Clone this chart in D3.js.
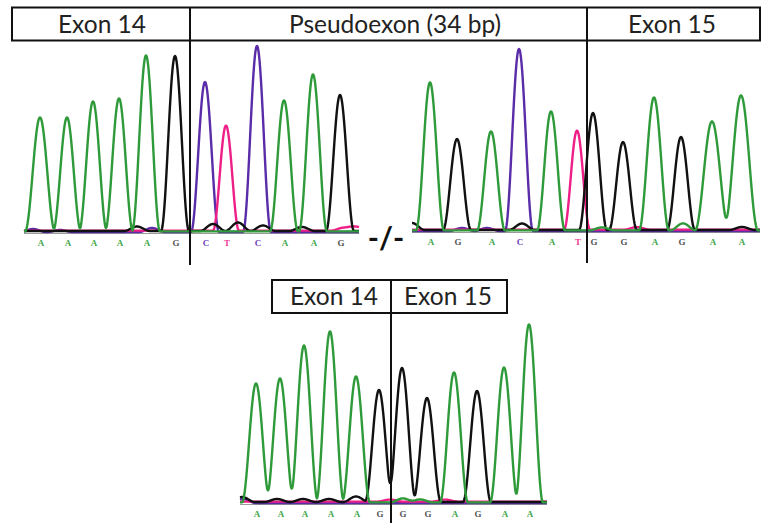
<!DOCTYPE html>
<html>
<head>
    <script src="https://d3js.org/d3.v7.min.js"></script>
    <style>
        body { margin: 0; background: white; }
        .hdr { font-family: Lato, "Open Sans", sans-serif; font-size: 24.5px; fill: #222; }
        .base { font-family: "Liberation Serif", serif; font-weight: bold; font-size: 9px; }
    </style>
</head>
<body>
<svg id="chart" width="771" height="525"></svg>
<script>
    // --- top left trace: end of exon 14 + start of the pseudoexon ---
    const leftBases   = ["A","A","A","A","A","G","C","T","C","A","A","G"];
    const leftScans   = [16, 43, 69, 95, 122, 151, 181, 202, 233, 260, 289, 316];
    const leftHeights = [1140, 1140, 1300, 1330, 1760, 1750, 1500, 1050, 1860, 1310, 1570, 1360];
    const leftWidths  = [15, 14, 14, 14, 14, 14, 14, 13, 14, 14, 14, 14];
    const leftJunction = 166;
    // small background bumps
    const leftNoiseBases   = ["C","C","G","C","G","G","G","G","T","T"];
    const leftNoiseScans   = [9, 36, 113, 128, 189, 214, 239, 278, 320, 332];
    const leftNoiseHeights = [30, 20, 45, 40, 70, 85, 55, 40, 30, 40];

    // --- top right trace: end of the pseudoexon + exon 15 ---
    const rightBases   = ["A","G","A","C","A","T","G","G","A","G","A","A"];
    const rightScans   = [18, 45, 79, 107, 139, 165, 181, 211, 242, 269, 300, 329];
    const rightHeights = [1480, 910, 990, 1820, 1190, 990, 1170, 880, 1330, 930, 1090, 1350];
    const rightWidths  = [14, 14, 14, 14, 14, 13, 14, 14, 15, 14, 17, 17];
    const rightJunction = 175;
    const rightNoiseBases   = ["G","C","C","G","A","A","G","T"];
    const rightNoiseScans   = [0, 50, 75, 110, 190, 271, 330, 225];
    const rightNoiseHeights = [70, 30, 30, 65, 30, 70, 30, 25];

    // --- bottom trace: normal exon 14 / exon 15 junction ---
    const normBases   = ["A","A","A","A","A","G","G","G","A","G","A","A"];
    const normScans   = [16, 40, 64, 90, 116, 139, 162, 187, 214, 237, 264, 289];
    const normHeights = [1190, 1240, 1570, 1710, 1260, 1120, 1340, 1040, 1300, 1110, 1350, 1780];
    const normWidths  = [14, 14, 14, 14, 14, 14, 14, 14, 14, 14, 14, 14];
    const normJunction = 151;
    const normNoiseBases   = ["G","C","G","G","G","G","A","A","T","T"];
    const normNoiseScans   = [2, 3, 37, 63, 89, 116, 163, 180, 150, 205];
    const normNoiseHeights = [50, 40, 30, 30, 30, 55, 40, 30, 20, 20];

    const channels = ["C", "T", "G", "A"];           // drawing order
    const traceColor = {A: "#2f9a3a", C: "#5a2ca8", G: "#111111", T: "#ee1f86"};
    const labelColor = {A: "#43a84a", C: "#6a3cb8", G: "#555555", T: "#ee3a92"};
    const chanOffset = {A: 6, C: 0, G: 10, T: 14};

    const svg = d3.select("#chart");

    function peakValue(d, w) {
        if (Math.abs(d) >= w) return 0;
        const c = Math.cos(Math.PI * d / (2 * w));
        return c * c;
    }

    function drawTrace(cfg) {
        const x = d3.scaleLinear().domain([0, cfg.scanMax]).range([cfg.x0, cfg.x1]);
        const y = d3.scaleLinear().domain([0, 1900]).range([cfg.baseline, cfg.baseline - 190]);

        const peaks = cfg.bases.map((b, i) => ({b: b, s: cfg.scans[i], h: cfg.heights[i], w: cfg.widths[i]}));
        const noise = cfg.noiseBases.map((b, i) => ({b: b, s: cfg.noiseScans[i], h: cfg.noiseHeights[i], w: 13}));
        const all = peaks.concat(noise);

        const ts = d3.range(0, cfg.scanMax + 0.01, 0.5);

        const g = svg.append("g");

        // grey axis line
        g.append("line")
            .attr("x1", x(0)).attr("x2", x(cfg.scanMax))
            .attr("y1", cfg.baseline + 1.5).attr("y2", cfg.baseline + 1.5)
            .attr("stroke", "#9a9a9a").attr("stroke-width", 1);

        const line = d3.line().x(d => x(d[0])).y(d => y(d[1]));

        channels.forEach(ch => {
            const pts = ts.map(t => {
                let v = chanOffset[ch];
                all.forEach(p => {
                    if (p.b === ch) v += p.h * peakValue(t - p.s, p.w);
                });
                return [t, v];
            });
            g.append("path")
                .attr("d", line(pts))
                .attr("fill", "none")
                .attr("stroke", traceColor[ch])
                .attr("stroke-width", 2.4)
                .attr("stroke-linejoin", "round");
        });

        // base calls
        g.selectAll("text.base")
            .data(peaks)
            .join("text")
            .attr("class", "base")
            .attr("x", d => x(d.s) + 1)
            .attr("y", cfg.baseline + 14)
            .attr("text-anchor", "middle")
            .attr("fill", d => labelColor[d.b])
            .text(d => d.b);

        // junction line
        g.append("line")
            .attr("x1", x(cfg.junction)).attr("x2", x(cfg.junction))
            .attr("y1", cfg.lineTop).attr("y2", cfg.lineBottom)
            .attr("stroke", "#111").attr("stroke-width", 2);
    }

    drawTrace({bases: leftBases, scans: leftScans, heights: leftHeights, widths: leftWidths,
        noiseBases: leftNoiseBases, noiseScans: leftNoiseScans, noiseHeights: leftNoiseHeights,
        junction: leftJunction, scanMax: 335, x0: 24, x1: 359, baseline: 232, lineTop: 7, lineBottom: 265});

    drawTrace({bases: rightBases, scans: rightScans, heights: rightHeights, widths: rightWidths,
        noiseBases: rightNoiseBases, noiseScans: rightNoiseScans, noiseHeights: rightNoiseHeights,
        junction: rightJunction, scanMax: 348, x0: 412, x1: 760, baseline: 231, lineTop: 7, lineBottom: 263});

    drawTrace({bases: normBases, scans: normScans, heights: normHeights, widths: normWidths,
        noiseBases: normNoiseBases, noiseScans: normNoiseScans, noiseHeights: normNoiseHeights,
        junction: normJunction, scanMax: 307, x0: 240, x1: 547, baseline: 503, lineTop: 280, lineBottom: 523});

    // header boxes
    svg.append("rect")
        .attr("x", 12).attr("y", 7.5).attr("width", 748).attr("height", 33)
        .attr("fill", "none").attr("stroke", "#111").attr("stroke-width", 2);
    svg.append("rect")
        .attr("x", 272).attr("y", 280).attr("width", 235).attr("height", 33)
        .attr("fill", "none").attr("stroke", "#111").attr("stroke-width", 2);

    const topLabels = ["Exon 14", "Pseudoexon (34 bp)", "Exon 15"];
    const topLabelX = [102, 395, 672];
    const bottomLabels = ["Exon 14", "Exon 15"];
    const bottomLabelX = [334, 448];

    svg.selectAll("text.top").data(topLabels).join("text")
        .attr("class", "hdr").attr("x", (d, i) => topLabelX[i]).attr("y", 33)
        .attr("text-anchor", "middle").text(d => d);
    svg.selectAll("text.bot").data(bottomLabels).join("text")
        .attr("class", "hdr").attr("x", (d, i) => bottomLabelX[i]).attr("y", 305)
        .attr("text-anchor", "middle").text(d => d);

    // break mark between the two top traces
    svg.append("text")
        .attr("x", 386).attr("y", 249)
        .attr("text-anchor", "middle")
        .style("font-family", "Lato, sans-serif")
        .style("font-size", "30px")
        .style("font-weight", "bold")
        .attr("fill", "#111")
        .text("-/-");
</script>
</body>
</html>
